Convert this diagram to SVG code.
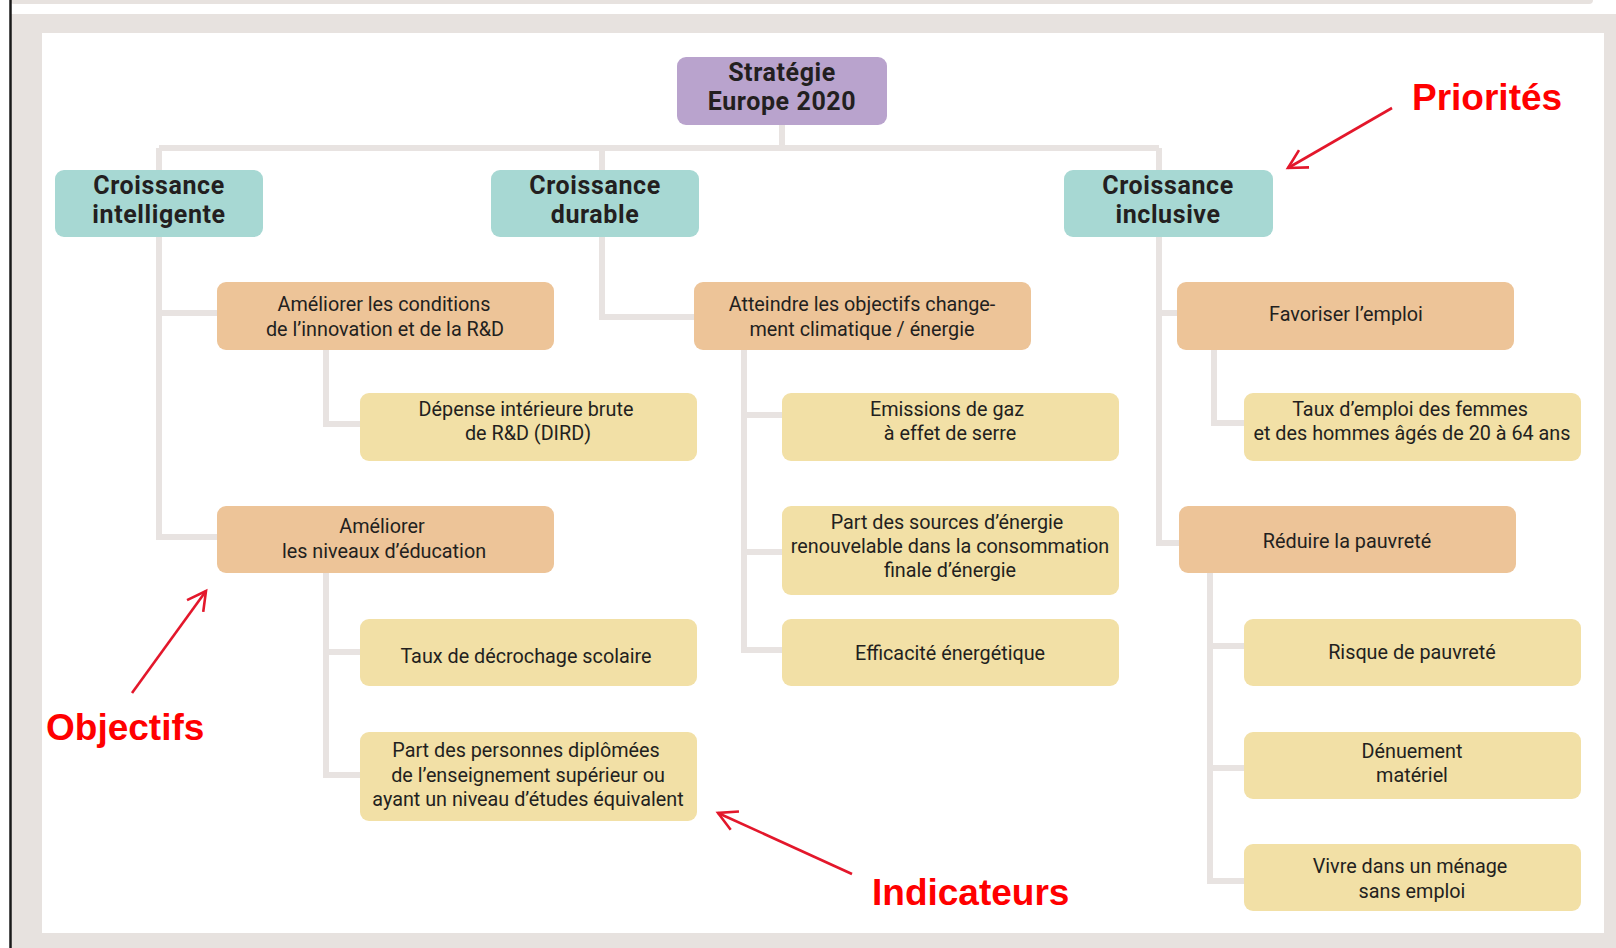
<svg xmlns="http://www.w3.org/2000/svg" width="1616" height="948" viewBox="0 0 1616 948">
<style>
.box{stroke:none}
.p{fill:#b9a3cd}.t{fill:#a7d8d3}.o{fill:#edc498}.y{fill:#f2e0a6}
.tt{font-family:Roboto,"Liberation Sans",sans-serif;font-weight:bold;font-size:25px;fill:#231f20;text-anchor:middle;letter-spacing:0.6px}
.tx{font-family:Roboto,"Liberation Sans",sans-serif;font-size:19.8px;fill:#231f20;text-anchor:middle}
.red{font-family:"Liberation Sans",Arial,sans-serif;font-weight:bold;font-size:37px;fill:#ff0000}
.conn{fill:none;stroke:#e8e3e1;stroke-width:6}
.arr{fill:none;stroke:#e3172b;stroke-width:2.6}
</style>
<defs>
<marker id="ah" markerUnits="userSpaceOnUse" markerWidth="26" markerHeight="26" viewBox="-22 -13 26 26" refX="0" refY="0" orient="auto">
<path d="M-18.5,-10 L0,0 L-18.5,10" fill="none" stroke="#e3172b" stroke-width="2.6"/>
</marker>
</defs>
<rect width="1616" height="948" fill="#ffffff"/>
<rect x="10" y="-10" width="1583" height="14" rx="4" fill="#e7e2df"/>
<rect x="11" y="14" width="1605" height="934" fill="#e7e2df"/>
<rect x="42" y="33" width="1562" height="900" fill="#ffffff"/>
<line x1="10.5" y1="0" x2="10.5" y2="948" stroke="#1a1a1a" stroke-width="2.5"/>

<g id="connectors">
<path class="conn" d="M782,125 V148 M159,148 H1159 M159,148 V170 M602,148 V170 M1159,148 V170"/>
<path class="conn" d="M159,237 V537 H217 M159,313 H217"/>
<path class="conn" d="M602,237 V317 H694"/>
<path class="conn" d="M1159,237 V543 H1179 M1159,313 H1177"/>
<path class="conn" d="M326,350 V424 H360"/>
<path class="conn" d="M326,573 V775 H360 M326,652 H360"/>
<path class="conn" d="M744,350 V650 H782 M744,415 H782 M744,552 H782"/>
<path class="conn" d="M1214,350 V423 H1244"/>
<path class="conn" d="M1210,573 V881 H1244 M1210,646 H1244 M1210,768 H1244"/>
</g>

<g id="n-strategie"><rect class="box p" x="677" y="57" width="210" height="68" rx="9"/>
<text class="tt" x="782" y="81">Stratégie</text><text class="tt" x="782" y="110">Europe 2020</text></g>

<g id="n-intelligente"><rect class="box t" x="55" y="170" width="208" height="67" rx="9"/>
<text class="tt" x="159" y="194">Croissance</text><text class="tt" x="159" y="223">intelligente</text></g>
<g id="n-durable"><rect class="box t" x="491" y="170" width="208" height="67" rx="9"/>
<text class="tt" x="595" y="194">Croissance</text><text class="tt" x="595" y="223">durable</text></g>
<g id="n-inclusive"><rect class="box t" x="1064" y="170" width="209" height="67" rx="9"/>
<text class="tt" x="1168" y="194">Croissance</text><text class="tt" x="1168" y="223">inclusive</text></g>

<g id="n-rd"><rect class="box o" x="217" y="282" width="337" height="68" rx="9"/>
<text class="tx" x="384" y="311">Améliorer les conditions</text><text class="tx" x="385" y="336">de l’innovation et de la R&amp;D</text></g>
<g id="n-climat"><rect class="box o" x="694" y="282" width="337" height="68" rx="9"/>
<text class="tx" x="862" y="311">Atteindre les objectifs change-</text><text class="tx" x="862" y="336">ment climatique / énergie</text></g>
<g id="n-emploi"><rect class="box o" x="1177" y="282" width="337" height="68" rx="9"/>
<text class="tx" x="1346" y="321">Favoriser l’emploi</text></g>
<g id="n-education"><rect class="box o" x="217" y="506" width="337" height="67" rx="9"/>
<text class="tx" x="382" y="533">Améliorer</text><text class="tx" x="384" y="558">les niveaux d’éducation</text></g>
<g id="n-pauvrete"><rect class="box o" x="1179" y="506" width="337" height="67" rx="9"/>
<text class="tx" x="1347" y="548">Réduire la pauvreté</text></g>

<g id="n-dird"><rect class="box y" x="360" y="393" width="337" height="68" rx="9"/>
<text class="tx" x="526" y="416">Dépense intérieure brute</text><text class="tx" x="528" y="440">de R&amp;D (DIRD)</text></g>
<g id="n-decrochage"><rect class="box y" x="360" y="619" width="337" height="67" rx="9"/>
<text class="tx" x="526" y="663">Taux de décrochage scolaire</text></g>
<g id="n-diplomees"><rect class="box y" x="360" y="732" width="337" height="89" rx="9"/>
<text class="tx" x="526" y="757">Part des personnes diplômées</text><text class="tx" x="528" y="782">de l’enseignement supérieur ou</text><text class="tx" x="528" y="806">ayant un niveau d’études équivalent</text></g>
<g id="n-gaz"><rect class="box y" x="782" y="393" width="337" height="68" rx="9"/>
<text class="tx" x="947" y="416">Emissions de gaz</text><text class="tx" x="950" y="440">à effet de serre</text></g>
<g id="n-renouvelable"><rect class="box y" x="782" y="506" width="337" height="89" rx="9"/>
<text class="tx" x="947" y="529">Part des sources d’énergie</text><text class="tx" x="950" y="553">renouvelable dans la consommation</text><text class="tx" x="950" y="577">finale d’énergie</text></g>
<g id="n-efficacite"><rect class="box y" x="782" y="619" width="337" height="67" rx="9"/>
<text class="tx" x="950" y="660">Efficacité énergétique</text></g>
<g id="n-tauxemploi"><rect class="box y" x="1244" y="393" width="337" height="68" rx="9"/>
<text class="tx" x="1410" y="416">Taux d’emploi des femmes</text><text class="tx" x="1412" y="440">et des hommes âgés de 20 à 64 ans</text></g>
<g id="n-risque"><rect class="box y" x="1244" y="619" width="337" height="67" rx="9"/>
<text class="tx" x="1412" y="659">Risque de pauvreté</text></g>
<g id="n-denuement"><rect class="box y" x="1244" y="732" width="337" height="67" rx="9"/>
<text class="tx" x="1412" y="758">Dénuement</text><text class="tx" x="1412" y="782">matériel</text></g>
<g id="n-menage"><rect class="box y" x="1244" y="844" width="337" height="67" rx="9"/>
<text class="tx" x="1410" y="873">Vivre dans un ménage</text><text class="tx" x="1412" y="898">sans emploi</text></g>

<g id="annotations">
<text class="red" x="1412" y="110">Priorités</text>
<line class="arr" x1="1392" y1="108" x2="1288" y2="168" marker-end="url(#ah)"/>
<text class="red" x="46" y="740">Objectifs</text>
<line class="arr" x1="132" y1="693" x2="206" y2="591" marker-end="url(#ah)"/>
<text class="red" x="872" y="905">Indicateurs</text>
<line class="arr" x1="852" y1="874" x2="718" y2="813" marker-end="url(#ah)"/>
</g>
</svg>
